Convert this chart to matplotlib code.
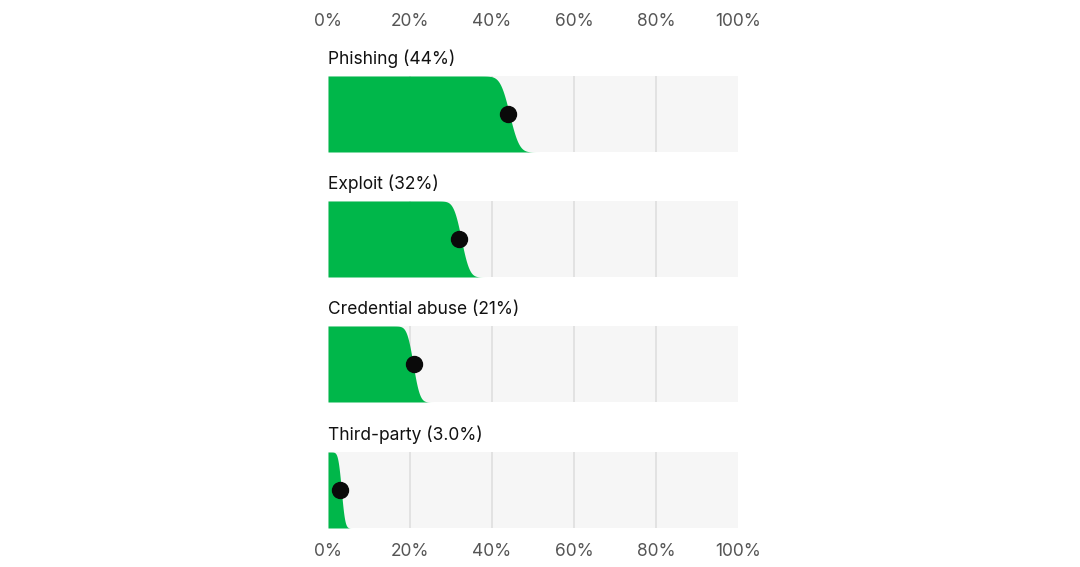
import math
import numpy as np
import matplotlib
matplotlib.use("Agg")
import matplotlib.pyplot as plt

plt.rcParams['font.family'] = ['Inter', 'DejaVu Sans']

# data -----------------------------------------------------------------------
labels = ["Phishing (44%)", "Exploit (32%)", "Credential abuse (21%)", "Third-party (3.0%)"]
values = [44, 32, 21, 3.0]
low = [39.5, 28.5, 17.5, 1.5]     # where the green edge starts (top)
high = [49.0, 36.5, 24.0, 5.0]    # where it ends (bottom)
ticks = [0, 20, 40, 60, 80, 100]
tick_labels = ["0%", "20%", "40%", "60%", "80%", "100%"]

green = "#00b74a"
bg = "#f6f6f6"
grid = "#e0e0e0"

fig = plt.figure(figsize=(10.8, 5.67), dpi=100)
W, H = 1080, 567
panel_tops = [76, 201, 326, 452]
ph = 76
x0, x1 = 328, 738

erf = np.vectorize(math.erf)

for i, (lab, v, lo, hi) in enumerate(zip(labels, values, low, high)):
    top = panel_tops[i]
    ax = fig.add_axes([x0 / W, (H - top - ph) / H, (x1 - x0) / W, ph / H])
    ax.set_xlim(0, 100)
    ax.set_ylim(0, 1)
    ax.set_facecolor(bg)
    for s in ax.spines.values():
        s.set_visible(False)
    for t in ticks[1:-1]:
        ax.axvline(t, color=grid, lw=1.3, zorder=1)
    # uncertainty edge, smooth between low and high
    xs = np.linspace(0, 100, 2000)
    mid = (lo + hi) / 2
    sc = (hi - lo) / 5.2
    h = 0.5 * (1 - erf((xs - mid) / (sc * math.sqrt(2))))
    ax.fill_between(xs, 0, h, color=green, lw=0, zorder=2)
    ax.plot([v], [0.5], 'o', color="#0a0a0a", ms=11.5, zorder=3)
    ax.annotate(lab, xy=(0, 1), xycoords='axes fraction', xytext=(0, 6),
                textcoords='offset points', ha='left', va='bottom',
                fontsize=12.5, color="#111111")
    ax.set_yticks([])
    ax.set_xticks(ticks)
    ax.tick_params(axis='x', length=0, labelsize=12.5, labelcolor="#555555")
    if i == 0:
        ax.xaxis.set_ticks_position('top')
        ax.set_xticklabels(tick_labels)
        ax.tick_params(axis='x', pad=33)
    elif i == 3:
        ax.set_xticklabels(tick_labels)
        ax.tick_params(axis='x', pad=11)
    else:
        ax.set_xticklabels([])

fig.savefig("out.png", dpi=100, facecolor="white")
